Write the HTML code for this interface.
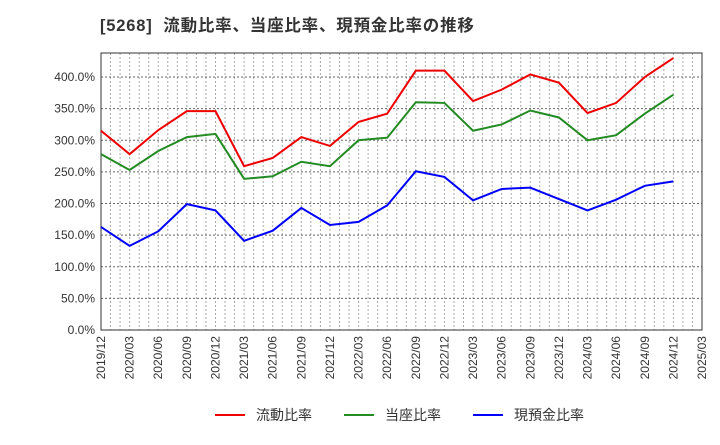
<!DOCTYPE html>
<html><head><meta charset="utf-8"><style>
body{margin:0;background:#fff;font-family:"Liberation Sans","Noto Sans CJK JP",sans-serif}
</style></head><body>
<svg id="c" width="720" height="440" xmlns="http://www.w3.org/2000/svg" font-family="Liberation Sans, Noto Sans CJK JP, sans-serif">
<text x="100" y="31" font-size="16.5" font-weight="bold" fill="#333" letter-spacing="0.8" style="white-space:pre">[5268]  流動比率、当座比率、現預金比率の推移</text>
<g id="grid"></g><g id="axes"></g><g id="series"></g>
<g font-size="14" fill="#333">
<line x1="215" y1="415" x2="245" y2="415" stroke="#e00" stroke-width="2"/><text x="256" y="420">流動比率</text>
<line x1="344" y1="415" x2="374" y2="415" stroke="#228b22" stroke-width="2"/><text x="385" y="420">当座比率</text>
<line x1="473" y1="415" x2="503" y2="415" stroke="#00f" stroke-width="2"/><text x="514" y="420">現預金比率</text>
</g>
</svg>
<script>
const categories=["2019/12","2020/03","2020/06","2020/09","2020/12","2021/03","2021/06","2021/09","2021/12","2022/03","2022/06","2022/09","2022/12","2023/03","2023/06","2023/09","2023/12","2024/03","2024/06","2024/09","2024/12","2025/03"];
const current=[315,278,316,346,346,259,272,305,291,329,342,410,410,362,380,404,391,343,359,400,430];
const quick=[278,253,283,305,310,239,243,266,259,300,304,360,359,315,325,347,336,300,308,342,372];
const cash=[163,133,156,199,189,141,157,193,166,171,197,251,242,205,223,225,207,189,206,228,235];
const yTicks=[0,50,100,150,200,250,300,350,400];
const L=101,R=702,T=53,B=330;
const xs=i=>L+(R-L)*i/(categories.length-1);
const ys=v=>B-v*(B-77)/400;
const ns="http://www.w3.org/2000/svg";
function mk(t,a,p){const e=document.createElementNS(ns,t);for(const k in a)e.setAttribute(k,a[k]);p.appendChild(e);return e;}
const grid=document.getElementById('grid'),axes=document.getElementById('axes'),ser=document.getElementById('series');
for(let m=0;m<=(categories.length-1)*3;m++){const x=L+(R-L)*m/((categories.length-1)*3);
const g=mk('line',{x1:x,x2:x,y1:T,y2:B,stroke:'#aaa','stroke-dasharray':'2,2','stroke-width':1},grid);

}
yTicks.forEach(v=>{const y=ys(v);
const g=mk('line',{x1:L,x2:R,y1:y,y2:y,stroke:'#666','stroke-dasharray':'2,2','stroke-width':1},grid);


const t=mk('text',{x:L-6,y:y+4,'text-anchor':'end','font-size':12,fill:'#333'},axes);t.textContent=v.toFixed(1)+'%';

});
categories.forEach((c,i)=>{const x=xs(i);
const t=mk('text',{transform:`translate(${x+4},${B+6}) rotate(-90)`,'text-anchor':'end','font-size':12,fill:'#333'},axes);t.textContent=c;

});
const fr=mk('rect',{x:L,y:T,width:R-L,height:B-T,fill:'none',stroke:'#333','stroke-width':1},axes);


[[current,'#e00','current-ratio-line'],[quick,'#228b22','quick-ratio-line'],[cash,'#00f','cash-ratio-line']].forEach(([d,c,n])=>{
const p=mk('polyline',{points:d.map((v,i)=>xs(i)+','+ys(v)).join(' '),fill:'none',stroke:c,'stroke-width':2},ser);

});
</script>
</body></html>
